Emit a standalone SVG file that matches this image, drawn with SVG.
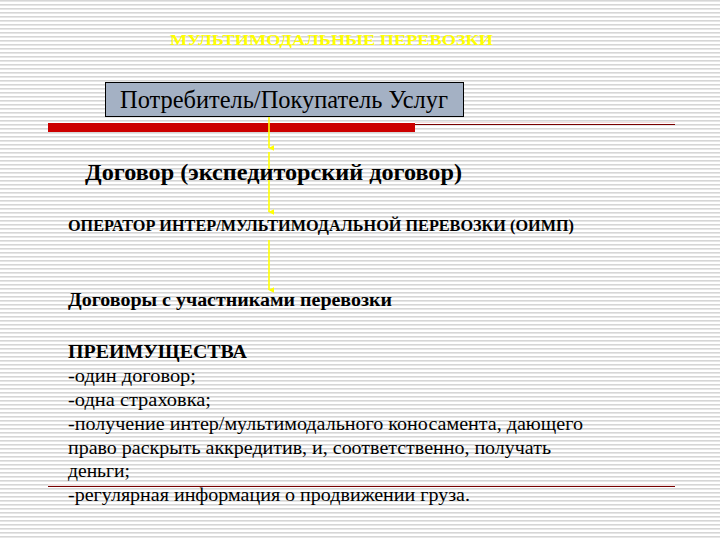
<svg xmlns="http://www.w3.org/2000/svg" width="720" height="540" viewBox="0 0 720 540">
<defs>
<pattern id="stripes" width="8" height="4" patternUnits="userSpaceOnUse">
<rect x="0" y="0" width="8" height="4" fill="#ffffff"/>
<rect x="0" y="0" width="8" height="1.6" fill="#d6d6d6"/>
</pattern>
<marker id="ah" viewBox="0 0 10 10" refX="5" refY="9" markerWidth="6" markerHeight="6" orient="auto-start-reverse" markerUnits="userSpaceOnUse">
<path d="M0,0 L10,0 L5,10 Z" fill="#ffff00"/>
</marker>
<style>
.b{font-weight:bold}
.conn{stroke:#ffff00;stroke-width:1.6;fill:none}
</style>
</defs>
<rect width="720" height="540" fill="url(#stripes)"/>
<g font-family="'Liberation Serif', 'DejaVu Serif', serif" fill="#000">
<g id="title">
<text class="b" fill="#ffff00" x="170" y="45" font-size="15" textLength="323" lengthAdjust="spacingAndGlyphs">МУЛЬТИМОДАЛЬНЫЕ ПЕРЕВОЗКИ</text>
</g>
<g id="decor">
<line x1="415" y1="124.5" x2="675" y2="124.5" stroke="#7a0000" stroke-width="1"/>
<line x1="415" y1="122.5" x2="675" y2="122.5" stroke="#f6dede" stroke-width="1"/>
<rect x="48" y="123" width="367" height="9" fill="#cc0000"/>
<line x1="48" y1="486.5" x2="675" y2="486.5" stroke="#7a0000" stroke-width="1"/>
<line x1="48" y1="484.5" x2="675" y2="484.5" stroke="#f6dede" stroke-width="1"/>
</g>
<g id="connectors">
<line class="conn" x1="269" y1="116" x2="269" y2="148" marker-end="url(#ah)"/>
<line class="conn" x1="269" y1="152" x2="269" y2="212" marker-end="url(#ah)"/>
<line class="conn" x1="269" y1="240" x2="269" y2="290" marker-end="url(#ah)"/>
</g>
<g id="consumer">
<rect x="105.5" y="82.5" width="358" height="34" fill="#a4b1c4" stroke="#000" stroke-width="1"/>
<text x="120" y="108" font-size="25" textLength="328" lengthAdjust="spacingAndGlyphs">Потребитель/Покупатель Услуг</text>
</g>
<g id="contract">
<text class="b" x="85" y="180" font-size="23" textLength="377" lengthAdjust="spacingAndGlyphs">Договор (экспедиторский договор)</text>
</g>
<g id="operator">
<text class="b" x="68" y="231" font-size="16" textLength="506" lengthAdjust="spacingAndGlyphs">ОПЕРАТОР ИНТЕР/МУЛЬТИМОДАЛЬНОЙ ПЕРЕВОЗКИ (ОИМП)</text>
</g>
<g id="participants">
<text class="b" x="68" y="306" font-size="18" textLength="324" lengthAdjust="spacingAndGlyphs">Договоры с участниками перевозки</text>
</g>
<g id="advantages">
<text class="b" x="68" y="358" font-size="19" textLength="179" lengthAdjust="spacingAndGlyphs">ПРЕИМУЩЕСТВА</text>
<text x="68" y="382" font-size="19" textLength="128" lengthAdjust="spacingAndGlyphs">-один договор;</text>
<text x="68" y="406" font-size="19" textLength="143" lengthAdjust="spacingAndGlyphs">-одна страховка;</text>
<text x="68" y="430" font-size="19" textLength="515" lengthAdjust="spacingAndGlyphs">-получение интер/мультимодального коносамента, дающего</text>
<text x="68" y="454" font-size="19" textLength="483" lengthAdjust="spacingAndGlyphs">право раскрыть аккредитив, и, соответственно, получать</text>
<text x="68" y="477" font-size="19" textLength="62" lengthAdjust="spacingAndGlyphs">деньги;</text>
<text x="68" y="501" font-size="19" textLength="402" lengthAdjust="spacingAndGlyphs">-регулярная информация о продвижении груза.</text>
</g>
</g>
</svg>
